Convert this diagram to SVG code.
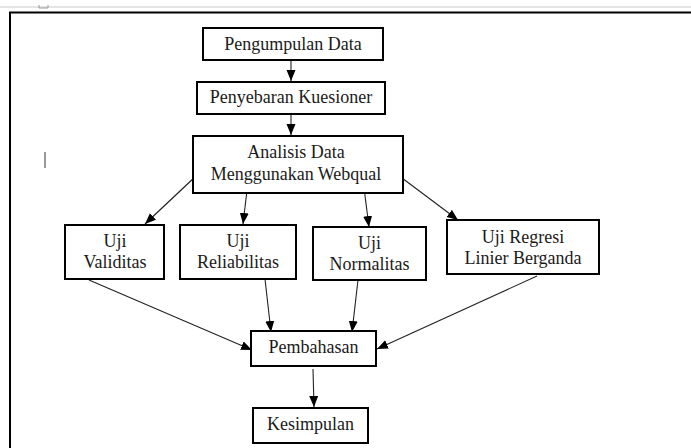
<svg xmlns="http://www.w3.org/2000/svg" width="691" height="448" viewBox="0 0 691 448">
<style>
.box{fill:#fff;stroke:#000;stroke-width:2}
.t{font-family:"Liberation Serif","Times New Roman",serif;font-size:18px;fill:#1a1a1a;text-anchor:middle}
.c{stroke:#222;stroke-width:1.1;fill:none}
</style>
<defs>
<marker id="ah" markerUnits="userSpaceOnUse" markerWidth="11" markerHeight="10" refX="11" refY="5" orient="auto">
<path d="M0,0.5 L11,5 L0,9.5 z" fill="#000"/>
</marker>
</defs>
<rect x="0" y="0" width="691" height="448" fill="#fff"/>
<line x1="0" y1="7" x2="691" y2="7" stroke="#e4e4e4" stroke-width="2"/>
<path d="M39,5 L39,8 L48,8 L48,5" fill="none" stroke="#999" stroke-width="1"/>
<g id="frame">
<line x1="9" y1="12.5" x2="691" y2="12.5" stroke="#000" stroke-width="2"/>
<line x1="10" y1="12" x2="10" y2="448" stroke="#000" stroke-width="2"/>
</g>
<line x1="45" y1="152" x2="45" y2="168" stroke="#333" stroke-width="1"/>
<g id="connectors">
<line class="c" x1="291" y1="50" x2="291" y2="81" marker-end="url(#ah)"/>
<line class="c" x1="291" y1="104" x2="291" y2="135" marker-end="url(#ah)"/>
<line class="c" x1="196" y1="176" x2="145" y2="224" marker-end="url(#ah)"/>
<line class="c" x1="248" y1="182" x2="243" y2="224" marker-end="url(#ah)"/>
<line class="c" x1="363" y1="180" x2="369" y2="227" marker-end="url(#ah)"/>
<line class="c" x1="398" y1="175" x2="458" y2="220" marker-end="url(#ah)"/>
<line class="c" x1="89" y1="280" x2="252" y2="350" marker-end="url(#ah)"/>
<line class="c" x1="265" y1="279" x2="271" y2="332" marker-end="url(#ah)"/>
<line class="c" x1="358" y1="280" x2="352" y2="332" marker-end="url(#ah)"/>
<line class="c" x1="537" y1="276" x2="377" y2="349" marker-end="url(#ah)"/>
<line class="c" x1="313" y1="369" x2="314" y2="407" marker-end="url(#ah)"/>
</g>
<g id="n1"><rect class="box" x="203" y="28" width="180" height="32"/><text class="t" x="293" y="50">Pengumpulan Data</text></g>
<g id="n2"><rect class="box" x="197" y="82" width="188" height="32"/><text class="t" x="291" y="103">Penyebaran Kuesioner</text></g>
<g id="n3"><rect class="box" x="193" y="136" width="210" height="57"/><text class="t" x="296" y="158">Analisis Data</text><text class="t" x="296" y="180">Menggunakan Webqual</text></g>
<g id="n4"><rect class="box" x="65" y="225" width="99" height="54"/><text class="t" x="115" y="247">Uji</text><text class="t" x="115" y="268">Validitas</text></g>
<g id="n5"><rect class="box" x="180" y="225" width="116" height="54"/><text class="t" x="238" y="247">Uji</text><text class="t" x="238" y="268">Reliabilitas</text></g>
<g id="n6"><rect class="box" x="313" y="227" width="113" height="53"/><text class="t" x="369.5" y="249">Uji</text><text class="t" x="369.5" y="270">Normalitas</text></g>
<g id="n7"><rect class="box" x="447" y="220" width="152" height="54"/><text class="t" x="523" y="243">Uji Regresi</text><text class="t" x="523" y="264">Linier Berganda</text></g>
<g id="n8"><rect class="box" x="251" y="331" width="125" height="35"/><text class="t" x="313.5" y="353">Pembahasan</text></g>
<g id="n9"><rect class="box" x="253" y="408" width="115" height="35"/><text class="t" x="310.5" y="430">Kesimpulan</text></g>
</svg>
